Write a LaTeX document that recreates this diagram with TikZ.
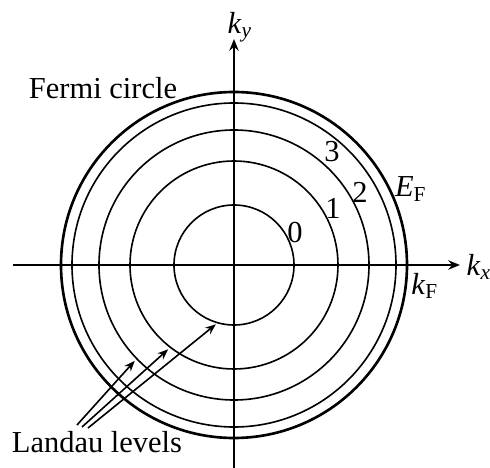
\documentclass[tikz,border=0pt]{standalone}
\usepackage{fontspec}
\setmainfont{Liberation Serif}
\usetikzlibrary{positioning}
\usetikzlibrary{arrows.meta}

\begin{document}
\begin{tikzpicture}[x=0.012cm,y=0.012cm,
    axis/.style={line width=0.75pt,-{Stealth[length=4pt,width=3.2pt]}},
    level/.style={line width=0.55pt},
    fermi/.style={line width=0.9pt},
    pointer/.style={line width=0.55pt,-{Stealth[length=3.6pt,width=2.8pt]}},
    lbl/.style={inner sep=0pt,font=\fontsize{10.4}{12}\selectfont}]
      \useasboundingbox (-234,-203) rectangle (256,265);
      \newcommand{\RZero}{60}
      \newcommand{\ROne}{104}
      \newcommand{\RTwo}{135}
      \newcommand{\RThree}{162}
      \newcommand{\RFermi}{173}
      \coordinate (O) at (0,0);
      \coordinate (xl) at (-221,0);
      \coordinate (xr) at (226,0);
      \coordinate (yb) at (0,-203);
      \coordinate (yt) at (0,226);
      % Landau levels and Fermi circle
      \draw[level] (O) circle (\RZero);
      \draw[level] (O) circle (\ROne);
      \draw[level] (O) circle (\RTwo);
      \draw[level] (O) circle (\RThree);
      \draw[fermi] (O) circle (\RFermi);
      % axes
      \draw[axis] (xl) -- (xr);
      \draw[axis] (yb) -- (yt);
      \node[lbl] (ky) at (6,238) {\textit{k}\textsubscript{\textit{y}}};
      \node[lbl] (kx) at (245,-2) {\textit{k}\textsubscript{\textit{x}}};
      \node[lbl] (kF) at (191,-21) {\textit{k}\textsubscript{F}};
      \node[lbl] (EF) at (177,76) {\textit{E}\textsubscript{F}};
      \node[lbl] (n3) at (98,113) {3};
      \node[lbl] (n2) at (126,73) {2};
      \node[lbl] (n1) at (99,57) {1};
      \node[lbl] (n0) at (61,32) {0};
      \node[lbl] (fermi) at (-131,177) {Fermi circle};
      \node[lbl] (landau) at (-137,-177) {Landau levels};
      % pointers to the levels
      \coordinate (s1) at (-157,-160);
      \coordinate (s2) at (-152,-162);
      \coordinate (s3) at (-146,-163);
      \coordinate (t1) at (224:\RTwo+3);
      \coordinate (t2) at (232:\ROne+3);
      \coordinate (t3) at (253:\RZero+2);
      \draw[pointer] (s1) -- (t1);
      \draw[pointer] (s2) -- (t2);
      \draw[pointer] (s3) -- (t3);
    \end{tikzpicture}
\end{document}
